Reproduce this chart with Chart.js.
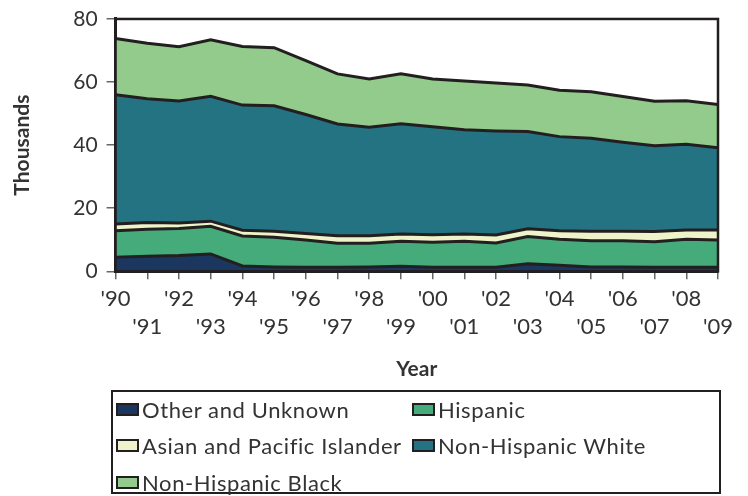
<!DOCTYPE html>
<html>
<head>
<meta charset="utf-8">
<script src="https://cdn.jsdelivr.net/npm/chart.js@4"></script>
<style>
    html, body { margin: 0; padding: 0; background: #fff; }
    #wrap { position: relative; width: 748px; height: 496px; }
    #legend-box { position: absolute; left: 111px; top: 390px; width: 610px; height: 104px;
        box-sizing: border-box; border: 2.5px solid #231f20; }
    .item { position: absolute; height: 26px; display: flex; align-items: center;
        font-family: Lato, sans-serif; font-size: 22px; letter-spacing: 0.6px; color: #333; white-space: nowrap; }
    .swatch { width: 19px; height: 9px; border: 2px solid #231f20; margin-right: 3px; }
</style>
</head>
<body>
<div id="wrap">
    <canvas id="areaChart" width="748" height="496"></canvas>
    <div id="legend-box"></div>
    <div id="legend"></div>
</div>
<script>
const years = ["'90", "'91", "'92", "'93", "'94", "'95", "'96", "'97", "'98", "'99",
               "'00", "'01", "'02", "'03", "'04", "'05", "'06", "'07", "'08", "'09"];

// thousands, stacked bottom to top
const otherUnknown = [4.5, 4.8, 5.0, 5.5, 1.7, 1.4, 1.3, 1.3, 1.4, 1.6, 1.3, 1.3, 1.3, 2.4, 1.9, 1.4, 1.4, 1.3, 1.3, 1.3];
const hispanic     = [8.4, 8.5, 8.6, 8.8, 9.5, 9.4, 8.6, 7.6, 7.5, 7.9, 7.9, 8.2, 7.7, 8.6, 8.3, 8.3, 8.3, 8.1, 8.9, 8.6];
const asianPacific = [2.1, 2.2, 1.7, 1.6, 1.8, 1.9, 2.1, 2.4, 2.4, 2.3, 2.4, 2.3, 2.5, 2.5, 2.7, 3.0, 3.0, 3.2, 2.9, 3.2];
const nhWhite      = [41.0, 39.2, 38.7, 39.6, 39.7, 39.8, 37.7, 35.4, 34.4, 35.0, 34.2, 33.1, 33.0, 30.8, 29.8, 29.5, 28.2, 27.2, 27.2, 26.1];
const nhBlack      = [17.8, 17.6, 17.2, 17.9, 18.6, 18.4, 17.1, 15.9, 15.3, 15.8, 15.2, 15.4, 15.2, 14.8, 14.7, 14.7, 14.5, 14.1, 13.8, 13.7];

const seriesNames = ['Other and Unknown', 'Hispanic', 'Asian and Pacific Islander', 'Non-Hispanic White', 'Non-Hispanic Black'];
const seriesData = [otherUnknown, hispanic, asianPacific, nhWhite, nhBlack];
const seriesColors = ['#1b365f', '#45ab7b', '#eef3c9', '#247382', '#93cb8c'];
const yTicks = [0, 20, 40, 60, 80];

const ink = '#231f20';
const textColor = '#333';
const fontFamily = 'Lato, sans-serif';

// odd years sit on a second line
const xLabels = years.map((y, i) => i % 2 === 0 ? y : ['', y]);

const frame = {
    id: 'frame',
    afterDatasetsDraw(chart) {
        const a = chart.chartArea;
        const c = chart.ctx;
        c.save();
        c.strokeStyle = ink;
        c.lineWidth = 2.5;
        c.strokeRect(a.left, a.top, a.right - a.left, a.bottom - a.top);
        c.restore();
    }
};

const chart = new Chart(document.getElementById('areaChart').getContext('2d'), {
    type: 'line',
    data: {
        labels: xLabels,
        datasets: seriesNames.map((name, i) => ({
            label: name,
            data: seriesData[i],
            backgroundColor: seriesColors[i],
            borderColor: ink,
            borderWidth: 3,
            pointRadius: 0,
            tension: 0,
            fill: i === 0 ? 'origin' : '-1'
        }))
    },
    options: {
        responsive: false,
        animation: false,
        layout: { padding: { top: 0, right: 30, bottom: 106.6, left: 0 } },
        plugins: {
            legend: { display: false },
            tooltip: { enabled: false }
        },
        scales: {
            x: {
                offset: false,
                grid: { drawOnChartArea: false, drawTicks: true, tickLength: 8, color: '#666', lineWidth: 1.5 },
                border: { display: true, color: ink, width: 3 },
                ticks: {
                    autoSkip: false, maxRotation: 0, minRotation: 0, padding: 6,
                    color: textColor, font: { family: fontFamily, size: 22, lineHeight: 1.27 }
                },
                title: {
                    display: true, text: 'Year', color: textColor,
                    font: { family: fontFamily, size: 21, weight: 'bold', lineHeight: 1.2 },
                    padding: { top: 9, bottom: 8 }
                }
            },
            y: {
                stacked: true,
                min: 0,
                max: 80,
                afterBuildTicks: (axis) => { axis.ticks = yTicks.map(v => ({ value: v })); },
                grid: { drawOnChartArea: false, drawTicks: true, tickLength: 9, color: '#666', lineWidth: 1.5 },
                border: { display: true, color: ink, width: 3 },
                ticks: {
                    padding: 9, color: textColor,
                    font: { family: fontFamily, size: 21, lineHeight: 0.95 }
                },
                title: {
                    display: true, text: 'Thousands', color: textColor,
                    font: { family: fontFamily, size: 21, weight: 'bold', lineHeight: 1.2 },
                    padding: { top: 10, bottom: 29 }
                }
            }
        }
    },
    plugins: [frame]
});

// legend in a box, two columns, row by row
const legendEl = document.getElementById('legend');
const colX = [116, 412];
const rowY = [409, 445, 482];
chart.data.datasets.forEach((ds, i) => {
    const item = document.createElement('div');
    item.className = 'item';
    item.style.left = colX[i % 2] + 'px';
    item.style.top = (rowY[Math.floor(i / 2)] - 13) + 'px';
    const sw = document.createElement('span');
    sw.className = 'swatch';
    sw.style.background = ds.backgroundColor;
    item.appendChild(sw);
    item.appendChild(document.createTextNode(ds.label));
    legendEl.appendChild(item);
});
</script>
</body>
</html>
